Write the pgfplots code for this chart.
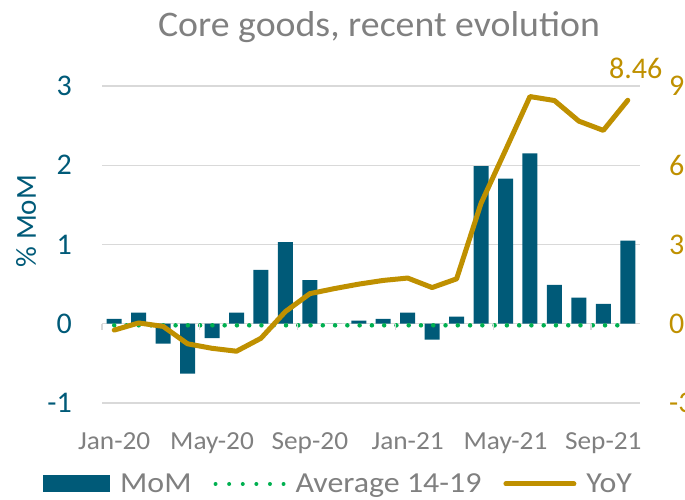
\documentclass[border=0pt]{standalone}
\usepackage{pgfplots}
\pgfplotsset{compat=1.18}
\usepackage{fontspec}
\setmainfont{Carlito}
\newfontfamily\widea{Carlito}[FakeStretch=1.05]
\newfontfamily\wideb{Carlito}[FakeStretch=1.1]
\definecolor{barc}{RGB}{0,90,120}
\definecolor{goldc}{RGB}{191,144,0}
\definecolor{greenc}{RGB}{0,176,80}
\definecolor{txtgray}{RGB}{128,128,128}
\definecolor{gridc}{RGB}{217,217,217}
\definecolor{tealtxt}{RGB}{0,90,120}

\pgfplotstableread{
x mom yoy
0 0.06 -0.24
1 0.14 0.03
2 -0.25 -0.10
3 -0.63 -0.76
4 -0.18 -0.93
5 0.14 -1.04
6 0.68 -0.55
7 1.03 0.46
8 0.55 1.14
9 0.00 1.33
10 0.04 1.50
11 0.06 1.64
12 0.14 1.73
13 -0.20 1.37
14 0.09 1.70
15 1.99 4.56
16 1.83 6.57
17 2.15 8.60
18 0.49 8.45
19 0.33 7.67
20 0.25 7.32
21 1.05 8.46
}\datatable

\begin{document}
\begin{tikzpicture}
\useasboundingbox (0pt,0pt) rectangle (685pt,500pt);
\node[anchor=base, font=\widea\fontsize{36}{36}\selectfont, text=txtgray] at (379pt,463pt) {Core goods, recent evolution};
\begin{axis}[
  at={(102pt,97pt)}, anchor=south west,
  scale only axis, width=538pt, height=317pt,
  xmin=-0.5, xmax=21.5, ymin=-1, ymax=3,
  ytick={-1,0,1,2,3}, yticklabels={-1,0,1,2,3},
  xtick={0,4,8,12,16,20},
  xticklabels={Jan-20,May-20,Sep-20,Jan-21,May-21,Sep-21},
  major tick length=0pt, minor tick length=0pt,
  axis line style={draw=none},
  ymajorgrids, grid style={gridc, line width=1.3pt},
  yticklabel style={font=\fontsize{30}{30}\selectfont, text=tealtxt, anchor=east, inner xsep=0pt, xshift=-30pt},
  xticklabel style={font=\widea\fontsize{26}{26}\selectfont, text=txtgray, anchor=base, yshift=-47pt},
  ylabel={\% MoM},
  ylabel style={font=\fontsize{29}{29}\selectfont, text=tealtxt, at={(axis description cs:-0.141,0.574)}, anchor=center, rotate=0},
  legend style={draw=none, fill=none, inner sep=0pt, at={(-0.1097,-0.2555)}, anchor=west,
    font=\wideb\fontsize{29}{29}\selectfont, text=txtgray, legend columns=3,
    nodes={inner xsep=0pt, inner ysep=0pt},
    /tikz/every odd column/.append style={column sep=10pt},
    /tikz/every even column/.append style={column sep=22pt}},
  clip=false,
]
\addplot[ybar, bar width=15pt, bar shift=0pt, fill=barc, draw=none,
  legend image code/.code={\fill[barc] (0pt,-8.5pt) rectangle (67pt,8.5pt);}]
  table[x=x, y=mom] {\datatable};
\addlegendentry{MoM}
\addplot[greenc, line width=4.5pt, line cap=round, dash pattern=on 0pt off 12.27pt,
  legend image code/.code={\draw[greenc, line width=4pt, line cap=round, dash pattern=on 0pt off 13.6pt] (2pt,0pt) -- (70pt,0pt);}]
  coordinates {(0,-0.02) (21,-0.02)};
\addlegendentry{Average 14-19}
\addlegendimage{goldc, line width=5pt, line cap=round,
  legend image code/.code={\draw[goldc, line width=5pt, line cap=round] (2.5pt,0pt) -- (70.5pt,0pt);}}
\addlegendentry{YoY}
\draw[gridc, line width=1.3pt] (axis cs:-0.5,0) -- ++(0pt,-6pt);
\draw[gridc, line width=1.3pt] (axis cs:3.5,0) -- ++(0pt,-6pt);
\draw[gridc, line width=1.3pt] (axis cs:7.5,0) -- ++(0pt,-6pt);
\draw[gridc, line width=1.3pt] (axis cs:11.5,0) -- ++(0pt,-6pt);
\draw[gridc, line width=1.3pt] (axis cs:15.5,0) -- ++(0pt,-6pt);
\draw[gridc, line width=1.3pt] (axis cs:19.5,0) -- ++(0pt,-6pt);
\end{axis}
\begin{axis}[
  at={(102pt,97pt)}, anchor=south west,
  scale only axis, width=538pt, height=317pt,
  xmin=-0.5, xmax=21.5, ymin=-3, ymax=9,
  axis x line=none, axis y line*=right,
  axis line style={draw=none},
  ytick={-3,0,3,6,9}, yticklabels={-3,0,3,6,9},
  major tick length=0pt,
  yticklabel style={font=\fontsize{30}{30}\selectfont, text=goldc, anchor=west, inner xsep=0pt, xshift=29pt},
  clip=false,
]
\addplot[goldc, line width=5pt, line join=round, line cap=round] table[x=x, y=yoy] {\datatable};
\node[anchor=base, font=\fontsize{30}{30}\selectfont, text=goldc, xshift=8pt, yshift=22pt] at (axis cs:21,8.46) {8.46};
\end{axis}
\end{tikzpicture}
\end{document}
